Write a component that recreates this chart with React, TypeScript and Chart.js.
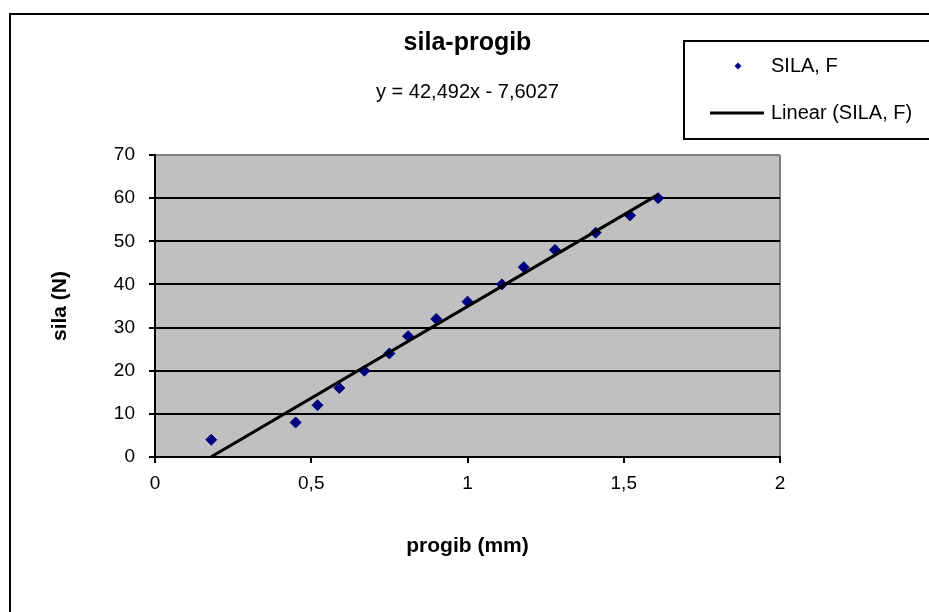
import { useEffect, useRef } from 'react';
import { Chart, registerables } from 'chart.js';

Chart.register(...registerables);

// ---- data ----
const progib = [0.18, 0.45, 0.52, 0.59, 0.67, 0.75, 0.81, 0.9, 1.0, 1.11, 1.18, 1.28, 1.41, 1.52, 1.61];
const sila = [4, 8, 12, 16, 20, 24, 28, 32, 36, 40, 44, 48, 52, 56, 60];
const trendSlope = 42.492;
const trendIntercept = -7.6027;
const xTicks = [0, 0.5, 1, 1.5, 2];
const yTicks = [0, 10, 20, 30, 40, 50, 60, 70];
const chartTitle = 'sila-progib';
const equationText = 'y = 42,492x - 7,6027';
const xTitle = 'progib (mm)';
const yTitle = 'sila (N)';
const seriesLabel = 'SILA, F';
const trendLabel = 'Linear (SILA, F)';

const FONT = '"Liberation Sans", Arial, sans-serif';

const fmt = (v: number) => String(v).replace('.', ',');

const framePlugin = {
  id: 'frame',
  beforeDraw(chart: any) {
    const { ctx, chartArea } = chart;
    ctx.save();
    ctx.fillStyle = '#ffffff';
    ctx.fillRect(0, 0, chart.width, chart.height);
    ctx.fillStyle = '#c0c0c0';
    ctx.fillRect(chartArea.left, chartArea.top, chartArea.right - chartArea.left, chartArea.bottom - chartArea.top);
    ctx.strokeStyle = '#000000';
    ctx.lineWidth = 2;
    ctx.strokeRect(10, 14, 1000, 1000);
    ctx.restore();
  },
};

const legendPlugin = {
  id: 'boxLegend',
  afterDraw(chart: any) {
    const { ctx } = chart;
    const ds = chart.data.datasets;
    ctx.save();
    ctx.fillStyle = '#ffffff';
    ctx.fillRect(684, 41, 260, 98);
    ctx.strokeStyle = '#000000';
    ctx.lineWidth = 2;
    ctx.strokeRect(684, 41, 260, 98);
    // marker item
    const mx = 738, my = 66, r = 3.5;
    ctx.fillStyle = ds[0].backgroundColor;
    ctx.beginPath();
    ctx.moveTo(mx - r, my);
    ctx.lineTo(mx, my - r);
    ctx.lineTo(mx + r, my);
    ctx.lineTo(mx, my + r);
    ctx.closePath();
    ctx.fill();
    // line item
    ctx.strokeStyle = ds[1].borderColor;
    ctx.lineWidth = 3;
    ctx.beginPath();
    ctx.moveTo(710, 113);
    ctx.lineTo(764, 113);
    ctx.stroke();
    ctx.fillStyle = '#000000';
    ctx.font = `20px ${FONT}`;
    ctx.textBaseline = 'middle';
    ctx.textAlign = 'left';
    ctx.fillText(ds[0].label, 771, 66);
    ctx.fillText(ds[1].label, 771, 113);
    ctx.restore();
  },
};

export default function App() {
  const ref = useRef<HTMLCanvasElement | null>(null);

  useEffect(() => {
    if (!ref.current) return;
    const xMin = Math.min(...progib);
    const xMax = Math.max(...progib);
    const trend = [xMin, xMax].map((x) => ({ x, y: trendSlope * x + trendIntercept }));

    const chart = new Chart(ref.current, {
      type: 'scatter',
      data: {
        datasets: [
          {
            label: seriesLabel,
            data: progib.map((x, i) => ({ x, y: sila[i] })),
            pointStyle: 'rectRot',
            pointRadius: 5.5,
            pointBorderWidth: 1,
            backgroundColor: '#000080',
            borderColor: '#000080',
            order: 2,
          },
          {
            label: trendLabel,
            type: 'line',
            data: trend,
            borderColor: '#000000',
            borderWidth: 3,
            pointRadius: 0,
            fill: false,
            order: 1,
          } as any,
        ],
      },
      options: {
        animation: false,
        responsive: false,
        maintainAspectRatio: false,
        layout: { padding: { left: 0, top: 0, right: 149, bottom: 0 } },
        plugins: {
          legend: { display: false },
          tooltip: { enabled: false },
          title: {
            display: true,
            text: chartTitle,
            fullSize: false,
            color: '#000000',
            font: { family: FONT, size: 25, weight: 'bold' },
            padding: { top: 28, bottom: 0 },
          },
          subtitle: {
            display: true,
            text: equationText,
            fullSize: false,
            color: '#000000',
            font: { family: FONT, size: 20 },
            padding: { top: 22, bottom: 51 },
          },
        },
        scales: {
          x: {
            type: 'linear',
            min: 0,
            max: 2,
            afterBuildTicks: (s: any) => {
              s.ticks = xTicks.map((v) => ({ value: v }));
            },
            afterFit: (s: any) => {
              s.height = 155;
            },
            ticks: {
              color: '#000000',
              font: { family: FONT, size: 19 },
              padding: 9,
              maxRotation: 0,
              callback: (v: any) => fmt(Number(v)),
            },
            grid: {
              drawOnChartArea: true,
              color: (c: any) => (c.tick && c.tick.value === 2 ? '#808080' : 'rgba(0,0,0,0)'),
              tickColor: '#000000',
              tickLength: 6,
              lineWidth: 2,
              tickWidth: 2,
            },
            border: { display: true, color: '#000000', width: 2 },
            title: {
              display: true,
              text: xTitle,
              color: '#000000',
              font: { family: FONT, size: 21, weight: 'bold' },
              padding: { top: 0, bottom: 53 },
            },
          },
          y: {
            type: 'linear',
            min: 0,
            max: 70,
            afterBuildTicks: (s: any) => {
              s.ticks = yTicks.map((v) => ({ value: v }));
            },
            afterFit: (s: any) => {
              s.width = 155;
            },
            ticks: {
              color: '#000000',
              font: { family: FONT, size: 19 },
              padding: 14,
              callback: (v: any) => fmt(Number(v)),
            },
            grid: {
              color: (c: any) => (c.tick && c.tick.value === 70 ? '#808080' : '#000000'),
              tickColor: '#000000',
              tickLength: 6,
              lineWidth: 2,
              tickWidth: 2,
            },
            border: { display: true, color: '#000000', width: 2 },
            title: {
              display: true,
              text: yTitle,
              color: '#000000',
              font: { family: FONT, size: 21, weight: 'bold' },
              padding: { top: 48, bottom: 0 },
            },
          },
        },
      },
      plugins: [framePlugin, legendPlugin],
    });
    return () => chart.destroy();
  }, []);

  return (
    <div style={{ position: 'fixed', left: 0, top: 0, width: 929, height: 612 }}>
      <canvas ref={ref} width={929} height={612} style={{ width: 929, height: 612, display: 'block' }} />
    </div>
  );
}
